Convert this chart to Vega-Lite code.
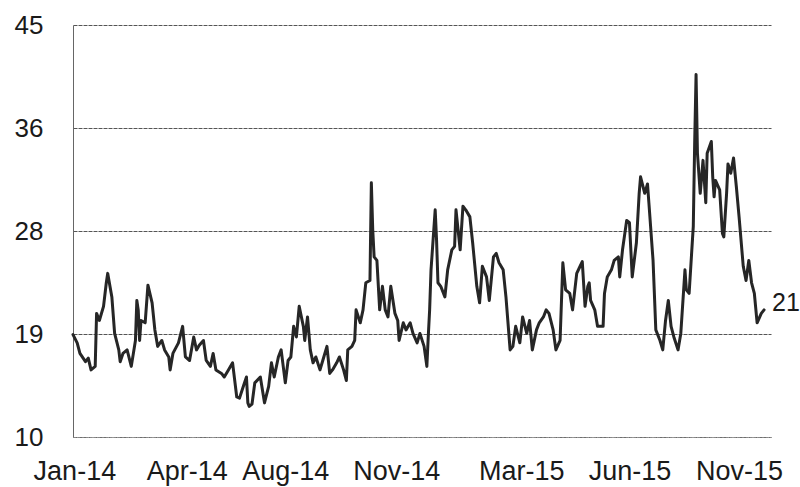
{
  "$schema": "https://vega.github.io/schema/vega-lite/v6.json",
  "width": 698,
  "height": 412,
  "autosize": {"type": "none"},
  "padding": {"left": 73, "top": 25, "right": 29, "bottom": 50},
  "background": "white",
  "config": {
    "view": {"stroke": null},
    "font": "Liberation Sans"
  },
  "data": {
    "values": [
      {"day":0,"v":18.7},{"day":3,"v":18.0},{"day":5,"v":17.1},{"day":9,"v":16.4},{"day":11,"v":16.7},{"day":13,"v":15.7},{"day":16,"v":16.0},{"day":17,"v":20.5},{"day":19,"v":19.9},{"day":22,"v":21.1},{"day":24,"v":23.1},{"day":25,"v":23.9},{"day":28,"v":21.9},{"day":30,"v":18.8},{"day":33,"v":17.4},{"day":34,"v":16.4},{"day":36,"v":17.1},{"day":39,"v":17.4},{"day":42,"v":16.0},{"day":45,"v":18.2},{"day":46,"v":21.6},{"day":47,"v":20.8},{"day":48,"v":18.2},{"day":49,"v":19.9},{"day":52,"v":19.7},{"day":54,"v":22.9},{"day":57,"v":21.4},{"day":59,"v":19.1},{"day":61,"v":17.7},{"day":64,"v":18.2},{"day":66,"v":17.4},{"day":69,"v":16.8},{"day":70,"v":15.7},{"day":72,"v":17.1},{"day":76,"v":18.0},{"day":79,"v":19.4},{"day":81,"v":16.8},{"day":84,"v":16.5},{"day":87,"v":18.5},{"day":89,"v":17.4},{"day":91,"v":17.8},{"day":94,"v":18.2},{"day":96,"v":16.5},{"day":99,"v":16.0},{"day":101,"v":17.1},{"day":103,"v":15.7},{"day":107,"v":15.4},{"day":109,"v":15.1},{"day":112,"v":15.7},{"day":115,"v":16.3},{"day":118,"v":13.4},{"day":120,"v":13.3},{"day":123,"v":14.4},{"day":125,"v":15.1},{"day":126,"v":12.9},{"day":127,"v":12.6},{"day":129,"v":12.8},{"day":131,"v":14.6},{"day":135,"v":15.1},{"day":138,"v":12.9},{"day":141,"v":14.3},{"day":143,"v":16.3},{"day":145,"v":15.1},{"day":148,"v":16.8},{"day":150,"v":17.4},{"day":153,"v":14.6},{"day":155,"v":16.5},{"day":157,"v":16.8},{"day":159,"v":19.4},{"day":161,"v":18.5},{"day":163,"v":21.1},{"day":166,"v":19.4},{"day":167,"v":18.2},{"day":169,"v":20.2},{"day":171,"v":17.4},{"day":173,"v":16.3},{"day":175,"v":16.8},{"day":178,"v":15.7},{"day":180,"v":16.5},{"day":183,"v":17.7},{"day":185,"v":15.4},{"day":187,"v":15.7},{"day":190,"v":16.3},{"day":192,"v":16.8},{"day":195,"v":15.7},{"day":197,"v":14.8},{"day":198,"v":17.4},{"day":201,"v":17.7},{"day":203,"v":18.2},{"day":204,"v":20.8},{"day":207,"v":19.7},{"day":209,"v":20.8},{"day":211,"v":23.1},{"day":214,"v":23.3},{"day":215,"v":31.6},{"day":216,"v":27.6},{"day":217,"v":25.3},{"day":219,"v":25.0},{"day":221,"v":20.8},{"day":223,"v":22.8},{"day":225,"v":20.8},{"day":227,"v":20.2},{"day":229,"v":22.8},{"day":232,"v":20.5},{"day":234,"v":19.9},{"day":235,"v":18.2},{"day":238,"v":19.7},{"day":240,"v":19.1},{"day":243,"v":19.7},{"day":245,"v":18.8},{"day":248,"v":18.0},{"day":250,"v":18.8},{"day":253,"v":17.7},{"day":255,"v":16.0},{"day":256,"v":18.5},{"day":257,"v":20.8},{"day":258,"v":24.2},{"day":261,"v":29.3},{"day":262,"v":26.7},{"day":263,"v":23.1},{"day":265,"v":22.8},{"day":268,"v":21.9},{"day":270,"v":24.2},{"day":273,"v":25.9},{"day":275,"v":26.2},{"day":276,"v":29.3},{"day":279,"v":25.9},{"day":281,"v":29.6},{"day":283,"v":29.3},{"day":286,"v":28.7},{"day":288,"v":26.5},{"day":291,"v":22.8},{"day":293,"v":21.4},{"day":295,"v":24.5},{"day":298,"v":23.6},{"day":300,"v":21.6},{"day":303,"v":25.3},{"day":305,"v":25.6},{"day":307,"v":24.8},{"day":310,"v":24.2},{"day":312,"v":21.9},{"day":315,"v":17.4},{"day":317,"v":17.7},{"day":319,"v":19.4},{"day":322,"v":18.0},{"day":324,"v":20.2},{"day":327,"v":18.8},{"day":329,"v":19.9},{"day":331,"v":17.4},{"day":334,"v":19.1},{"day":336,"v":19.7},{"day":339,"v":20.2},{"day":341,"v":20.8},{"day":343,"v":20.5},{"day":346,"v":19.1},{"day":348,"v":17.4},{"day":351,"v":18.2},{"day":353,"v":24.8},{"day":355,"v":22.5},{"day":358,"v":22.2},{"day":360,"v":20.8},{"day":363,"v":23.9},{"day":365,"v":24.4},{"day":367,"v":24.9},{"day":369,"v":21.1},{"day":371,"v":22.8},{"day":372,"v":23.1},{"day":373,"v":21.6},{"day":376,"v":20.8},{"day":378,"v":19.4},{"day":382,"v":19.4},{"day":383,"v":22.2},{"day":385,"v":23.6},{"day":388,"v":24.2},{"day":390,"v":25.0},{"day":393,"v":25.3},{"day":394,"v":23.6},{"day":396,"v":25.9},{"day":399,"v":28.4},{"day":401,"v":28.2},{"day":403,"v":23.6},{"day":406,"v":26.5},{"day":408,"v":30.7},{"day":409,"v":32.1},{"day":412,"v":30.7},{"day":414,"v":31.5},{"day":415,"v":29.9},{"day":418,"v":25.0},{"day":420,"v":19.1},{"day":423,"v":18.2},{"day":425,"v":17.4},{"day":427,"v":19.9},{"day":429,"v":21.6},{"day":431,"v":19.4},{"day":433,"v":18.5},{"day":436,"v":17.4},{"day":438,"v":18.8},{"day":441,"v":24.2},{"day":442,"v":22.5},{"day":444,"v":22.2},{"day":447,"v":27.9},{"day":448,"v":35.0},{"day":449,"v":40.8},{"day":450,"v":34.1},{"day":452,"v":30.7},{"day":454,"v":33.5},{"day":456,"v":29.9},{"day":457,"v":34.1},{"day":460,"v":35.1},{"day":461,"v":32.1},{"day":462,"v":30.4},{"day":463,"v":31.8},{"day":466,"v":31.0},{"day":468,"v":27.3},{"day":469,"v":27.0},{"day":471,"v":30.7},{"day":472,"v":33.2},{"day":474,"v":32.4},{"day":476,"v":33.7},{"day":478,"v":31.3},{"day":480,"v":28.7},{"day":483,"v":24.5},{"day":485,"v":23.3},{"day":487,"v":25.0},{"day":489,"v":23.1},{"day":491,"v":22.2},{"day":493,"v":19.7},{"day":496,"v":20.5},{"day":498,"v":20.8}
    ]
  },
  "encoding": {
    "x": {
      "field": "day",
      "type": "quantitative",
      "scale": {"domain": [0, 503], "nice": false, "zero": false},
      "axis": {
        "title": null,
        "values": [1, 82, 153, 233, 323, 401, 480],
        "labelExpr": "datum.value == 1 ? 'Jan-14' : datum.value == 82 ? 'Apr-14' : datum.value == 153 ? 'Aug-14' : datum.value == 233 ? 'Nov-14' : datum.value == 323 ? 'Mar-15' : datum.value == 401 ? 'Jun-15' : 'Nov-15'",
        "grid": false,
        "ticks": false,
        "domainColor": "#888888",
        "domainWidth": 1,
        "domainDash": [3, 1],
        "labelFontSize": 27,
        "labelColor": "#1a1a1a",
        "labelPadding": 21,
        "labelFlush": false,
        "labelOverlap": false,
        "labelFont": "Liberation Sans"
      }
    },
    "y": {
      "field": "v",
      "type": "quantitative",
      "scale": {"domain": [10, 45], "nice": false, "zero": false},
      "axis": {
        "title": null,
        "values": [10, 18.75, 27.5, 36.25, 45],
        "format": ".0f",
        "grid": true,
        "gridColor": "#555555",
        "gridWidth": 1,
        "gridDash": [4, 1],
        "ticks": false,
        "domainColor": "#666666",
        "domainWidth": 1,
        "labelFontSize": 26,
        "labelColor": "#1a1a1a",
        "labelPadding": 30,
        "labelFont": "Liberation Sans"
      }
    }
  },
  "layer": [
    {
      "mark": {"type": "line", "color": "#262626", "strokeWidth": 3, "strokeJoin": "round", "strokeCap": "round"}
    },
    {
      "transform": [{"filter": "datum.day == 498"}],
      "mark": {"type": "text", "align": "left", "baseline": "middle", "dx": 8, "dy": -7, "fontSize": 25, "color": "#1a1a1a", "font": "Liberation Sans"},
      "encoding": {
        "text": {"field": "v", "type": "quantitative", "format": ".0f"}
      }
    }
  ]
}
